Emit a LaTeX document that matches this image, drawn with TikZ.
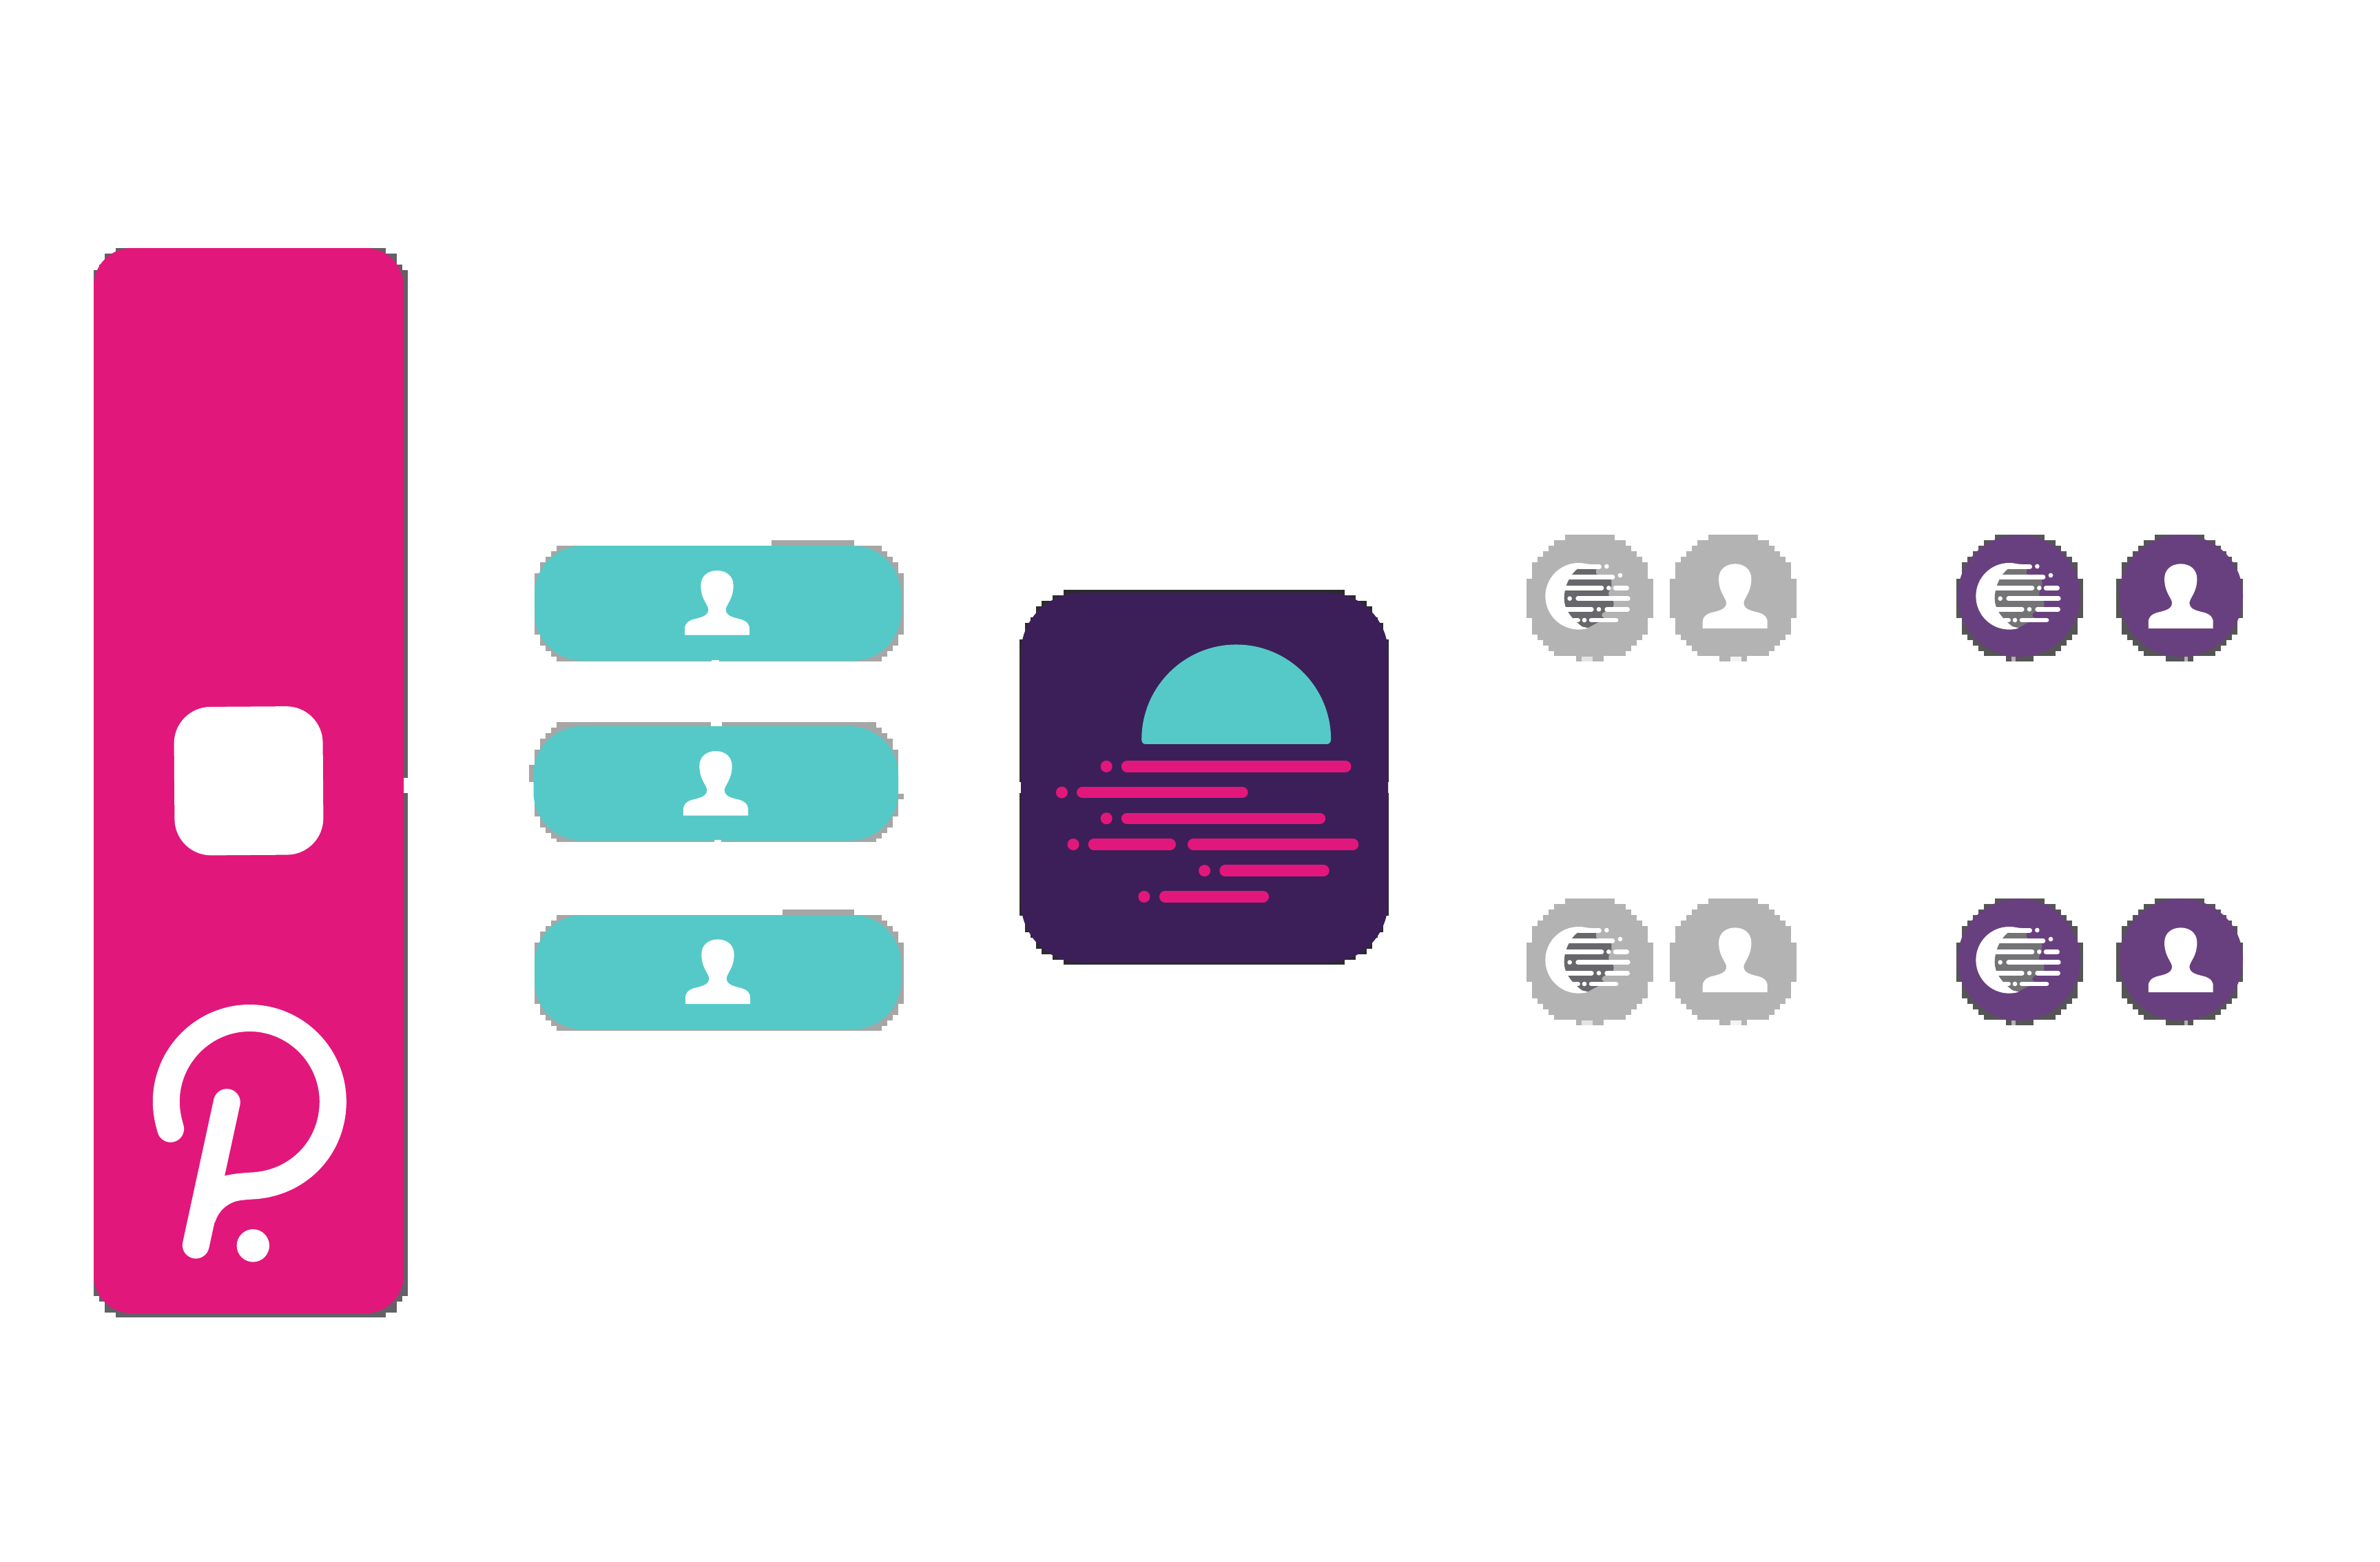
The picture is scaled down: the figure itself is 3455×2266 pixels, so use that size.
\documentclass[tikz,border=0pt]{standalone}
\definecolor{pinkc}{HTML}{E2177B}
\definecolor{tealc}{HTML}{55C9C7}
\definecolor{deepp}{HTML}{3C1F59}
\definecolor{midp}{HTML}{69407F}
\definecolor{greyd}{HTML}{B3B3B3}
\definecolor{moonA}{HTML}{68686C}
\definecolor{moonB}{HTML}{747476}
\definecolor{fringeT}{HTML}{A6A6A6}
\definecolor{fringeP}{HTML}{636066}
\definecolor{fringeD}{HTML}{2B2B2B}
\definecolor{fringeM}{HTML}{555555}
% stair-stepped rounded rectangle on an 8px grid: x0 y0 x1 y1 r colour
\newcommand{\pixrr}[6]{%
  \pgfmathtruncatemacro\pxN{round((#4-#2)/8)-1}%
  \foreach \k in {0,...,\pxN}{%
    \pgfmathsetmacro\pxT{#2+8*\k}%
    \pgfmathsetmacro\pxB{min(\pxT+8,#4)}%
    \pgfmathsetmacro\pxD{max(0,max(#2+#5-\pxB,\pxT-(#4-#5)))}%
    \pgfmathsetmacro\pxI{8*round((#5-sqrt(#5*#5-\pxD*\pxD))/8)}%
    \pgfmathsetmacro\pxE{min(\pxB+0.5,#4)}%
    \fill[#6] ({#1+\pxI},\pxT) rectangle ({#3-\pxI},\pxE);
  }%
}
% stepped disc: centre x, centre y, colour
\newcommand{\pixdisc}[3]{%
  \pgfmathsetmacro\dL{#1-92}\pgfmathsetmacro\dR{#1+92}%
  \pgfmathsetmacro\dT{#2-92}\pgfmathsetmacro\dB{#2+92}%
  \pixrr{\dL}{\dT}{\dR}{\dB}{92}{#3}%
  \fill[white] (\dL,{\dB-8}) rectangle (\dR,{\dB+1});
  \fill[#3] ({#1-20},{\dB-8.5}) rectangle ({#1+20},\dB);
}
% head and shoulders: centre x, bottom y, colour
\newcommand{\personicon}[3]{%
  \begin{scope}[shift={(#1,#2)},scale=0.3333]
    \fill[#3] (-141,0) -- (-141,-26) .. controls (-141,-51) and (-126,-61) .. (-106,-68)
      .. controls (-76,-76) and (-38,-81) .. (-38,-111)
      .. controls (-38,-131) and (-71,-156) .. (-71,-216)
      .. controls (-71,-256) and (-41,-281) .. (0,-281)
      .. controls (41,-281) and (71,-256) .. (71,-216)
      .. controls (71,-156) and (38,-131) .. (38,-111)
      .. controls (38,-81) and (76,-76) .. (106,-68)
      .. controls (126,-61) and (141,-51) .. (141,-26) -- (141,0) -- cycle;
  \end{scope}%
}
% moon icon: origin x, origin y, dark colour
\newcommand{\moonicon}[3]{%
  \begin{scope}[shift={(#1,#2)},scale=0.3333]
    \begin{scope}
      \clip (100,200) rectangle (375,540);
      \fill[white] (335,376) circle[radius=145];
    \end{scope}
    \fill[#3] (330,257) -- (412,257) .. controls (408,270) and (410,283) .. (420,283)
      -- (470,283) -- (478,310) -- (478,330) -- (470,350) -- (465,362) -- (467,376)
      -- (485,396) -- (488,410) -- (485,423) -- (450,443)
      .. controls (432,450) and (432,465) .. (445,470) -- (420,490) -- (400,500) -- (375,514)
      -- (350,508) .. controls (300,470) and (272,430) .. (272,386)
      .. controls (272,330) and (300,280) .. (330,257) -- cycle;
    \begin{scope}[barline/.style={white,line width=0.0667cm,line cap=round}]
      \fill[white] (330,232) .. controls (360,232) and (375,238) .. (405,237) -- (425,237) -- (425,257) -- (330,257) -- cycle;
      \draw[barline] (340,247) -- (425,247);
      \draw[barline] (280,293) -- (483,293);
      \draw[barline] (265,340) -- (435,340);
      \draw[barline] (495,340) -- (545,340);
      \draw[barline] (332,386) -- (550,386);
      \draw[barline] (270,433) -- (391,433);
      \draw[barline] (458,433) -- (548,433);
      \draw[barline] (315,480) -- (332,480);
      \draw[barline] (390,480) -- (498,480);
      \foreach \p in {(457,246),(516,285),(466,340),(296,386),(423,433),(360,480)}
        \fill[white] \p circle[radius=10];
    \end{scope}
  \end{scope}%
}
\begin{document}
\begin{tikzpicture}[x=0.01cm,y=-0.01cm]
\useasboundingbox (0,0) rectangle (3455,2266);
\fill[white] (0,0) rectangle (3455,2266);

% ---------- pink panel
\pixrr{136}{360}{592}{1912}{60}{fringeP}
\fill[white] (584,1129) rectangle (593,1151);
\fill[pinkc,rounded corners=0.55cm] (136,360) rectangle (586,1906);
\fill[white,rounded corners=0.53cm,rotate around={0.4:(361,1133)}] (253,1025.5) rectangle (469,1241);
\begin{scope}[shift={(100,1400)},xscale=0.3333,yscale=0.3444]
  \draw[white,line width=0.39cm,line cap=round,line join=round]
    (443,692) .. controls (432,655) and (424,620) .. (424,577)
    .. controls (424,384) and (587,225) .. (787,225)
    .. controls (987,225) and (1150,383) .. (1150,577)
    .. controls (1150,770) and (1000,922) .. (800,932)
    -- (770,934) .. controls (720,938) and (670,945) .. (625,970);
  \draw[white,line width=0.39cm,line cap=round] (688,580) -- (553,1182);
  \fill[white] (770,990) .. controls (690,995) and (650,1040) .. (635,1090) -- (620,900) -- (770,900) -- cycle;
  \fill[white] (802,1184) ellipse[x radius=71,y radius=69];
\end{scope}

% ---------- teal pills
\pixrr{776}{792}{1312}{960}{62}{fringeT}
\fill[fringeT] (1120,784) rectangle (1240,792.5);
\fill[tealc,rounded corners=0.7cm] (776,792) rectangle (1308,959);
\fill[white] (1033,957.5) rectangle (1044,961);
\personicon{1041}{921.7}{white}

\pixrr{776}{1048}{1304}{1222}{62}{fringeT}
\fill[fringeT] (768,1110) rectangle (777,1135);
\fill[fringeT] (1303,1152) rectangle (1312,1160);
\fill[white] (1032,1047) rectangle (1048,1055);
\fill[tealc,rounded corners=0.7cm] (774.5,1054) rectangle (1304,1220);
\fill[white] (1037,1218.5) rectangle (1047,1223);
\personicon{1039}{1183.7}{white}

\pixrr{776}{1328}{1312}{1496}{62}{fringeT}
\fill[fringeT] (1136,1320) rectangle (1240,1328.5);
\fill[tealc,rounded corners=0.7cm] (776,1328) rectangle (1308,1494);
\personicon{1042}{1457}{white}

% ---------- moonbeam tile
\pixrr{1480}{856}{2016}{1400}{100}{fringeD}
\fill[white] (1479,1135) rectangle (1483,1151);
\fill[white] (2014,1135) rectangle (2017,1151);
\fill[deepp,rounded corners=0.88cm] (1482,860) rectangle (2015,1397);
\begin{scope}[shift={(1460,840)},scale=0.37,
    rayline/.style={pinkc,line width=0.166cm,line cap=round}]
  \fill[tealc] (533,630) .. controls (533,425) and (700,258) .. (904.5,258)
    .. controls (1109,258) and (1276,425) .. (1276,630)
    .. controls (1276,640) and (1270,648) .. (1262,648) -- (546,648)
    .. controls (538,648) and (533,640) .. (533,630) -- cycle;
  \draw[rayline] (476,736) -- (1333,736);
  \draw[rayline] (301,838) -- (928,838);
  \draw[rayline] (476,940) -- (1232,940);
  \draw[rayline] (346,1042) -- (645,1042);
  \draw[rayline] (736,1042) -- (1362,1042);
  \draw[rayline] (861,1145) -- (1247,1145);
  \draw[rayline] (625,1247) -- (1010,1247);
  \foreach \p in {(395,736),(220,838),(395,940),(265,1042),(780,1145),(543,1247)}
    \fill[pinkc] \p circle[radius=23];
\end{scope}

% ---------- grey and purple discs, two rows
\foreach \dy in {0,528}{
  \pgfmathsetmacro\cy{868+\dy}
  \pgfmathsetmacro\my{740+\dy}
  \pgfmathsetmacro\by{912+\dy}
  \pixdisc{2308}{\cy}{greyd}
  \pixdisc{2516}{\cy}{greyd}
  \fill[white,opacity=0.65] (2296,{\cy+85}) rectangle (2312,{\cy+92});
  \fill[white,opacity=0.85] (2512,{\cy+85}) rectangle (2528,{\cy+92});
  \moonicon{2180}{\my}{moonA}
  \personicon{2518.7}{\by}{white}
  \pixdisc{2932}{\cy}{fringeM}
  \pixdisc{3164}{\cy}{fringeM}
  \fill[greyd] (2920,{\cy+85}) rectangle (2926,{\cy+92});
  \fill[greyd] (3171,{\cy+85}) rectangle (3176,{\cy+92});
  \fill[midp] (2931,{\cy-3.3}) ellipse[x radius=89,y radius=88.7];
  \fill[midp] (3166,{\cy-3.3}) ellipse[x radius=90,y radius=88.7];
  \moonicon{2805}{\my}{moonB}
  \personicon{3165.7}{\by}{white}
}
\end{tikzpicture}
\end{document}
